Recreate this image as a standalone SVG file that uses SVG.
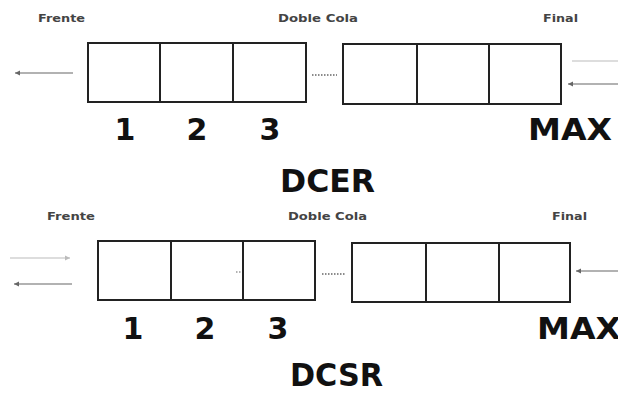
<svg xmlns="http://www.w3.org/2000/svg" width="618" height="393" viewBox="0 0 618 393">
<style>
.box{fill:#fff;stroke:#222;stroke-width:2}
.div{stroke:#222;stroke-width:2}
.arr{stroke:#666;stroke-width:1.2;fill:none}
.faint{stroke:#bbb;stroke-width:1.2;fill:none}
.dots{stroke:#666;stroke-width:1.5;stroke-dasharray:1.5 1.5;fill:none}
.lbl{font-family:"DejaVu Sans",Verdana,sans-serif;font-weight:bold;font-size:10px;fill:#444}
.num{font-family:"DejaVu Sans",Verdana,sans-serif;font-weight:bold;font-size:30px;fill:#111;text-anchor:middle}
.ttl{font-family:"DejaVu Sans",Verdana,sans-serif;font-weight:bold;font-size:32px;fill:#111}
</style>
<defs>
<marker id="ah" markerWidth="6" markerHeight="6" refX="5" refY="3" orient="auto" markerUnits="userSpaceOnUse">
<path d="M0,0.5 L5,3 L0,5.5 z" fill="#666"/>
</marker>
<marker id="ahf" markerWidth="6" markerHeight="6" refX="5" refY="3" orient="auto" markerUnits="userSpaceOnUse">
<path d="M0,0.5 L5,3 L0,5.5 z" fill="#bbb"/>
</marker>
</defs>

<g id="dcer">
<g id="dcer-labels">
<text class="lbl" x="38" y="22" textLength="47" lengthAdjust="spacingAndGlyphs">Frente</text>
<text class="lbl" x="278" y="22" textLength="80" lengthAdjust="spacingAndGlyphs">Doble Cola</text>
<text class="lbl" x="543" y="22" textLength="35" lengthAdjust="spacingAndGlyphs">Final</text>
</g>
<g id="dcer-front-cells">
<rect class="box" x="88" y="43" width="218" height="59"/>
<line class="div" x1="160" y1="43" x2="160" y2="102"/>
<line class="div" x1="233" y1="43" x2="233" y2="102"/>
</g>
<g id="dcer-rear-cells">
<rect class="box" x="343" y="44" width="218" height="60"/>
<line class="div" x1="417" y1="44" x2="417" y2="104"/>
<line class="div" x1="489" y1="44" x2="489" y2="104"/>
</g>
<g id="dcer-index">
<text class="num" x="125" y="140">1</text>
<text class="num" x="197" y="140">2</text>
<text class="num" x="270" y="140">3</text>
<text class="num" x="570" y="140" textLength="84" lengthAdjust="spacingAndGlyphs">MAX</text>
</g>
<text class="ttl" x="280" y="192" textLength="95" lengthAdjust="spacingAndGlyphs">DCER</text>
</g>

<g id="dcsr">
<g id="dcsr-labels">
<text class="lbl" x="47" y="220" textLength="48" lengthAdjust="spacingAndGlyphs">Frente</text>
<text class="lbl" x="288" y="220" textLength="79" lengthAdjust="spacingAndGlyphs">Doble Cola</text>
<text class="lbl" x="552" y="220" textLength="35" lengthAdjust="spacingAndGlyphs">Final</text>
</g>
<g id="dcsr-front-cells">
<rect class="box" x="98" y="241" width="217" height="59"/>
<line class="div" x1="171" y1="241" x2="171" y2="300"/>
<line class="div" x1="243" y1="241" x2="243" y2="300"/>
<line x1="236" y1="272" x2="242" y2="272" stroke="#666" stroke-width="1.2" stroke-dasharray="1.5 1.5"/>
</g>
<g id="dcsr-rear-cells">
<rect class="box" x="352" y="243" width="218" height="59"/>
<line class="div" x1="426" y1="243" x2="426" y2="302"/>
<line class="div" x1="499" y1="243" x2="499" y2="302"/>
</g>
<g id="dcsr-index">
<text class="num" x="133" y="339">1</text>
<text class="num" x="205" y="339">2</text>
<text class="num" x="278" y="339">3</text>
<text class="num" x="537" y="339" style="text-anchor:start" textLength="84" lengthAdjust="spacingAndGlyphs">MAX</text>
</g>
<text class="ttl" x="290" y="386" textLength="93" lengthAdjust="spacingAndGlyphs">DCSR</text>
</g>

<g id="connectors">
<line class="arr" x1="73" y1="73" x2="15" y2="73" marker-end="url(#ah)"/>
<line class="dots" x1="312" y1="75" x2="337" y2="75"/>
<line class="faint" x1="572" y1="61" x2="618" y2="61"/>
<line class="arr" x1="618" y1="84" x2="568" y2="84" marker-end="url(#ah)"/>

<line class="faint" x1="10" y1="258" x2="70" y2="258" marker-end="url(#ahf)"/>
<line class="arr" x1="72" y1="284" x2="14" y2="284" marker-end="url(#ah)"/>
<line class="dots" x1="322" y1="274" x2="346" y2="274"/>
<line class="arr" x1="618" y1="271" x2="576" y2="271" marker-end="url(#ah)"/>
</g>
</svg>
